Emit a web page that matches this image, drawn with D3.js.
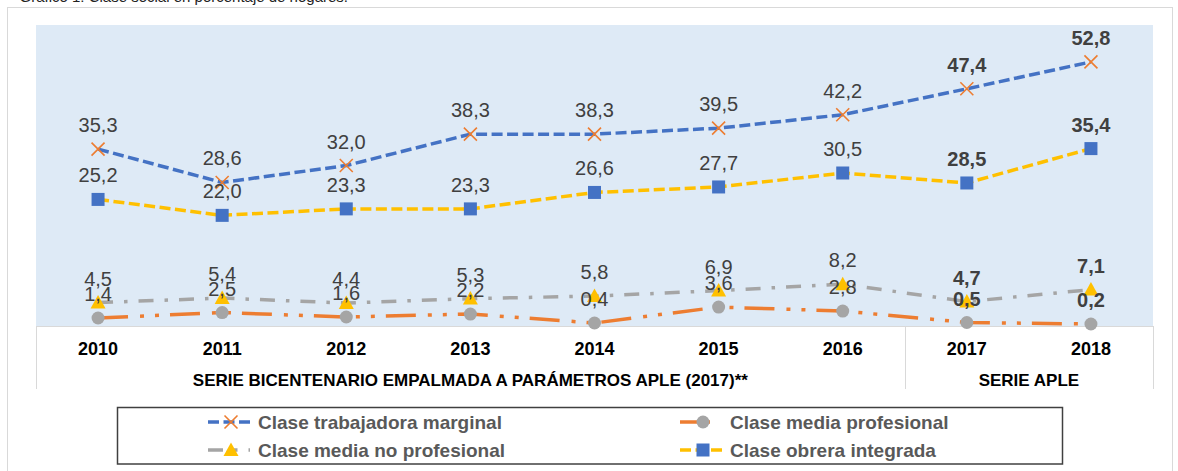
<!DOCTYPE html>
<html>
<head>
<meta charset="utf-8">
<script src="https://cdn.jsdelivr.net/npm/d3@7"></script>
<style>
  body { margin: 0; background: #fff; }
  svg { display: block; font-family: "Liberation Sans", Arial, sans-serif; }
  .lbl { font-size: 20px; fill: #404040; }
  .year { font-size: 18px; font-weight: bold; fill: #000; }
  .group { font-size: 17px; font-weight: bold; fill: #000; }
  .leg { font-size: 19px; font-weight: bold; fill: #595959; }
</style>
</head>
<body>
<svg width="1178" height="471"></svg>
<script>
var years = ['2010', '2011', '2012', '2013', '2014', '2015', '2016', '2017', '2018'];
var trabajadoraMarginal = [35.3, 28.6, 32.0, 38.3, 38.3, 39.5, 42.2, 47.4, 52.8];
var obreraIntegrada = [25.2, 22.0, 23.3, 23.3, 26.6, 27.7, 30.5, 28.5, 35.4];
var mediaNoProfesional = [4.5, 5.4, 4.4, 5.3, 5.8, 6.9, 8.2, 4.7, 7.1];
var mediaProfesional = [1.4, 2.5, 1.6, 2.2, 0.4, 3.6, 2.8, 0.5, 0.2];
var boldYears = ['2017', '2018'];
var groups = [
  { name: 'SERIE BICENTENARIO EMPALMADA A PARÁMETROS APLE (2017)**', from: '2010', to: '2016' },
  { name: 'SERIE APLE', from: '2017', to: '2018' }
];

var series = [
  { name: 'Clase trabajadora marginal', values: trabajadoraMarginal, line: '#4472C4', dash: '11,4.5', marker: 'x', fill: '#ED7D31' },
  { name: 'Clase media profesional', values: mediaProfesional, line: '#ED7D31', dash: '30,12,4,11,4,11', marker: 'circle', fill: '#A5A5A5' },
  { name: 'Clase media no profesional', values: mediaNoProfesional, line: '#A5A5A5', dash: '15,11,3.5,11', marker: 'triangle', fill: '#FFC000' },
  { name: 'Clase obrera integrada', values: obreraIntegrada, line: '#FFC000', dash: '11,4.5', marker: 'square', fill: '#4472C4' }
];

var svg = d3.select('svg');

var x = d3.scaleBand().domain(years).range([36, 1153]);
var y = d3.scaleLinear().domain([0, 60]).range([325, 26]);
var cx = d => x(d) + x.bandwidth() / 2;

// title, cut off at the top as in the source
svg.append('text')
  .attr('x', 348).attr('y', 2)
  .attr('text-anchor', 'end')
  .style('font-size', '15px').style('fill', '#222')
  .text('Gráfico 1: Clase social en porcentaje de hogares.');

// outer frame
svg.append('rect')
  .attr('x', 7.5).attr('y', 7.5)
  .attr('width', 1165).attr('height', 480)
  .attr('fill', '#fff').attr('stroke', '#D9D9D9');

svg.append('rect')
  .attr('x', 36).attr('y', 25)
  .attr('width', 1117).attr('height', 301)
  .attr('fill', '#DEEAF6');

// category axis lines
var axis = svg.append('g').attr('stroke', '#D9D9D9').attr('stroke-width', 1);
axis.append('line').attr('x1', 36).attr('x2', 1153).attr('y1', 326.5).attr('y2', 326.5);
[x('2010'), x('2017'), x('2018') + x.bandwidth()].forEach(function (px) {
  axis.append('line')
    .attr('x1', Math.round(px) + 0.5).attr('x2', Math.round(px) + 0.5)
    .attr('y1', 326).attr('y2', 389);
});

svg.selectAll('.year')
  .data(years)
  .enter().append('text')
    .attr('class', 'year')
    .attr('x', d => cx(d))
    .attr('y', 355)
    .attr('text-anchor', 'middle')
    .text(d => d);

svg.selectAll('.group')
  .data(groups)
  .enter().append('text')
    .attr('class', 'group')
    .attr('x', d => (x(d.from) + x(d.to) + x.bandwidth()) / 2)
    .attr('y', 386)
    .attr('text-anchor', 'middle')
    .text(d => d.name);

function drawMarker(g, type, color) {
  if (type === 'x') {
    g.append('path').attr('d', 'M-6.5,-6.5L6.5,6.5M-6.5,6.5L6.5,-6.5')
      .attr('stroke', color).attr('stroke-width', 1.6).attr('fill', 'none');
  } else if (type === 'circle') {
    g.append('circle').attr('r', 6.5).attr('fill', color);
  } else if (type === 'triangle') {
    g.append('path').attr('d', 'M0,-7.5L7.5,6L-7.5,6Z').attr('fill', color);
  } else {
    g.append('rect').attr('x', -6.5).attr('y', -6.5).attr('width', 13).attr('height', 13).attr('fill', color);
  }
}

var line = d3.line()
  .x(d => cx(d[0]))
  .y(d => y(d[1]));

series.forEach(function (s) {
  var pts = years.map((yr, i) => [yr, s.values[i]]);
  svg.append('path')
    .datum(pts)
    .attr('d', line)
    .attr('fill', 'none')
    .attr('stroke', s.line)
    .attr('stroke-width', 3.5)
    .attr('stroke-dasharray', s.dash);
  pts.forEach(function (p) {
    var g = svg.append('g').attr('transform', 'translate(' + cx(p[0]) + ',' + y(p[1]) + ')');
    drawMarker(g, s.marker, s.fill);
  });
});

var fmt = v => d3.format('.1f')(v).replace('.', ',');
series.forEach(function (s) {
  svg.append('g').selectAll('text')
    .data(years.map((yr, i) => [yr, s.values[i]]))
    .enter().append('text')
      .attr('class', 'lbl')
      .attr('x', d => cx(d[0]))
      .attr('y', d => y(d[1]) - 17)
      .attr('text-anchor', 'middle')
      .style('font-weight', d => boldYears.indexOf(d[0]) >= 0 ? 'bold' : 'normal')
      .text(d => fmt(d[1]));
});

// legend
svg.append('rect')
  .attr('x', 117.5).attr('y', 407.5)
  .attr('width', 945).attr('height', 56.5)
  .attr('fill', '#fff').attr('stroke', '#404040').attr('stroke-width', 1.5);

var legendOrder = [
  { s: series[0], lx: 208, ly: 422 },
  { s: series[1], lx: 680, ly: 422 },
  { s: series[2], lx: 208, ly: 450 },
  { s: series[3], lx: 680, ly: 450 }
];

legendOrder.forEach(function (e) {
  var g = svg.append('g').attr('transform', 'translate(' + e.lx + ',' + e.ly + ')');
  g.append('line')
    .attr('x1', 0).attr('x2', 42)
    .attr('stroke', e.s.line).attr('stroke-width', 3.5)
    .attr('stroke-dasharray', e.s.dash);
  drawMarker(g.append('g').attr('transform', 'translate(23,0)'), e.s.marker, e.s.fill);
  g.append('text')
    .attr('class', 'leg')
    .attr('x', 50).attr('y', 7)
    .text(e.s.name);
});
</script>
</body>
</html>
